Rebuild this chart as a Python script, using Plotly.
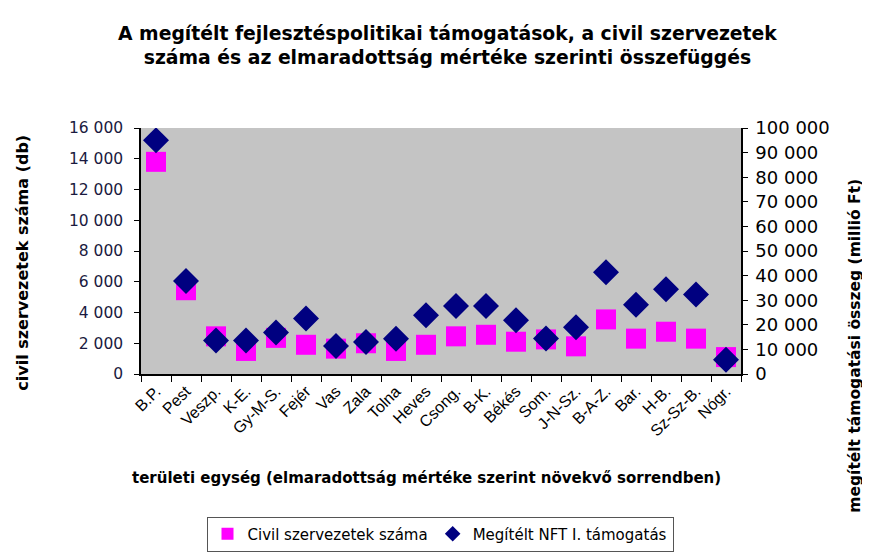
import plotly.graph_objects as go

categories = ["B.P.", "Pest", "Veszp.", "K-E.", "Gy-M-S.", "Fejér", "Vas", "Zala", "Tolna", "Heves",
              "Csong.", "B-K.", "Békés", "Som.", "J-N-Sz.", "B-A-Z.", "Bar.", "H-B.", "Sz-Sz-B.", "Nógr."]
civil = [13800, 5450, 2450, 1500, 2350, 1900, 1650, 2000, 1500, 1900,
         2450, 2550, 2100, 2250, 1800, 3550, 2300, 2750, 2300, 1100]
nfti = [95000, 37800, 13600, 13600, 16900, 22600, 11400, 13000, 14300, 23900,
        27600, 27600, 21900, 14400, 19000, 41400, 28200, 34500, 32300, 5800]

FONT = "Liberation Sans, Arial, sans-serif"
DV = "DejaVu Sans, sans-serif"

# the page body shifts the figure horizontally by 8px
OFFX, OFFY = 8, 0
W, H = 870 - OFFX, 555 - OFFY
# plot area in window pixels: x 141..741, y 120..372
ML, MT = 141 - OFFX, 120 - OFFY
PW, PH = 600, 252
MR, MB = W - ML - PW, H - MT - PH


def px(x):
    return (x - OFFX - ML) / PW


def py(y):
    return (MT + PH - (y - OFFY)) / PH


fig = go.Figure()
fig.add_trace(go.Scatter(
    x=categories, y=civil, mode="markers", name="Civil szervezetek száma",
    marker=dict(symbol="square", size=20, color="#FF00FF"), yaxis="y"))
fig.add_trace(go.Scatter(
    x=categories, y=nfti, mode="markers", name="Megítélt NFT I. támogatás",
    marker=dict(symbol="diamond", size=20, color="#000080"), yaxis="y2"))

fig.update_layout(
    width=W, height=H,
    margin=dict(l=ML, r=MR, t=MT, b=MB),
    paper_bgcolor="white", plot_bgcolor="#C4C4C4",
    separators=", ",
    font=dict(family=FONT, size=15, color="black"),
    showlegend=True,
    legend=dict(orientation="h", x=px(440), xanchor="center", y=py(518), yanchor="top",
                bordercolor="#555555", borderwidth=1, bgcolor="white",
                font=dict(family=DV, size=15), itemsizing="constant", traceorder="normal"),
    xaxis=dict(type="category", range=[-0.5, 19.5], tickangle=-45, tickson="boundaries",
               ticks="outside", ticklen=6, tickcolor="black", showline=True, linecolor="black",
               linewidth=1.5, showgrid=False, tickfont=dict(size=16)),
    yaxis=dict(range=[0, 16000], dtick=2000, tickformat=",d", ticks="outside", ticklen=5,
               tickcolor="black", showline=True, linecolor="black", linewidth=1.5,
               showgrid=False, zeroline=False, ticklabelstandoff=8,
               tickfont=dict(family=DV, size=15.5, color="#1a1a40")),
    yaxis2=dict(range=[0, 100000], dtick=10000, tickformat=",d", overlaying="y", side="right",
                ticks="outside", ticklen=5, tickcolor="black", showline=True, linecolor="black",
                linewidth=1.5, showgrid=False, zeroline=False, ticklabelstandoff=4,
                tickfont=dict(family=DV, size=18)),
    annotations=[
        dict(text="<b>A megítélt fejlesztéspolitikai támogatások, a civil szervezetek<br>száma és az elmaradottság mértéke szerinti összefüggés</b>",
             x=px(447), y=py(35), xref="paper", yref="paper", showarrow=False,
             font=dict(family=DV, size=18.8), xanchor="center", yanchor="middle"),
        dict(text="<b>civil szervezetek száma (db)</b>", textangle=-90, x=px(23), y=py(258),
             xref="paper", yref="paper", showarrow=False, font=dict(family=DV, size=16),
             xanchor="center", yanchor="middle"),
        dict(text="<b>megítélt támogatási összeg (millió Ft)</b>", textangle=-90, x=px(855), y=py(343),
             xref="paper", yref="paper", showarrow=False, font=dict(family=DV, size=15.5),
             xanchor="center", yanchor="middle"),
        dict(text="<b>területi egység (elmaradottság mértéke szerint növekvő sorrendben)</b>",
             x=px(426), y=py(479), xref="paper", yref="paper", showarrow=False,
             font=dict(family=DV, size=15), xanchor="center", yanchor="middle"),
    ],
)

fig.write_html("out.html")
